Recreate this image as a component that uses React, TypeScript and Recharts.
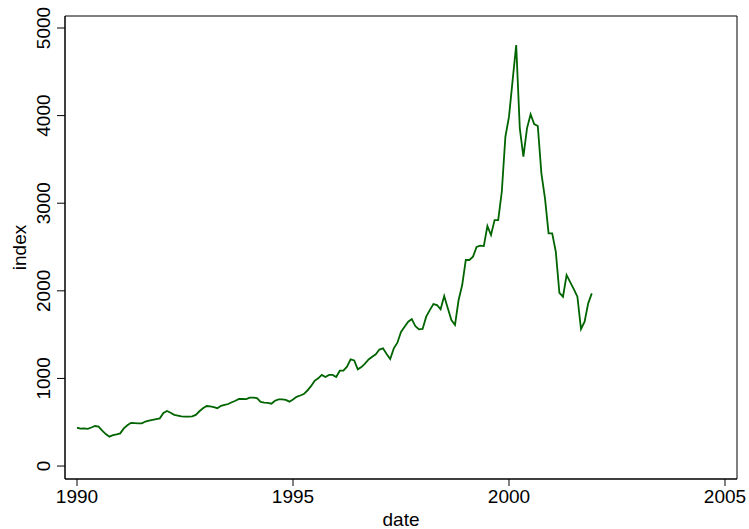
import React from 'react';
import { LineChart, Line, XAxis, YAxis, ReferenceArea } from 'recharts';

const years = [1990, 1991, 1992, 1993, 1994, 1995, 1996, 1997, 1998, 1999, 2000, 2001];

const index1990 = [437, 428, 430, 425, 440, 457, 450, 405, 365, 335, 352, 362];
const index1991 = [373, 430, 465, 493, 490, 487, 487, 508, 518, 527, 536, 544];
const index1992 = [605, 628, 608, 585, 576, 567, 564, 563, 568, 584, 625, 660];
const index1993 = [685, 680, 672, 660, 688, 698, 708, 728, 745, 765, 765, 763];
const index1994 = [780, 781, 775, 733, 725, 720, 711, 745, 761, 761, 755, 735];
const index1995 = [760, 790, 805, 822, 862, 912, 972, 1001, 1040, 1016, 1040, 1040];
const index1996 = [1016, 1088, 1088, 1134, 1218, 1206, 1104, 1130, 1168, 1216, 1247, 1275];
const index1997 = [1330, 1343, 1280, 1221, 1343, 1408, 1530, 1590, 1647, 1678, 1595, 1560];
const index1998 = [1564, 1705, 1780, 1849, 1838, 1789, 1941, 1800, 1667, 1610, 1895, 2066];
const index1999 = [2352, 2352, 2390, 2500, 2515, 2511, 2740, 2637, 2808, 2808, 3131, 3759];
const index2000 = [3988, 4400, 4806, 3855, 3531, 3855, 4015, 3904, 3881, 3341, 3056, 2656];
const index2001 = [2656, 2446, 1978, 1933, 2180, 2100, 2020, 1933, 1564, 1647, 1857, 1971];

const seriesByYear = [
  index1990, index1991, index1992, index1993, index1994, index1995,
  index1996, index1997, index1998, index1999, index2000, index2001,
];

const xTicks = [1990, 1995, 2000, 2005];
const yTicks = [0, 1000, 2000, 3000, 4000, 5000];

const data = years.flatMap((yr, i) =>
  seriesByYear[i].map((v, m) => ({ date: yr + m / 12, index: v }))
);

const FONT = '"Liberation Sans", Arial, Helvetica, sans-serif';
const FS = 19;
const X_DOMAIN: [number, number] = [1989.722, 2005.278];
const Y_DOMAIN: [number, number] = [-148, 5137];

const XTick = (props: any) => {
  const { x, y, payload } = props;
  return (
    <text x={x} y={y} dy={17} textAnchor="middle" fontFamily={FONT} fontSize={FS} fill="#000">
      {payload.value}
    </text>
  );
};

const YTick = (props: any) => {
  const { x, y, payload } = props;
  const bx = x - 7;
  return (
    <text
      x={bx}
      y={y}
      transform={`rotate(-90, ${bx}, ${y})`}
      textAnchor="middle"
      fontFamily={FONT}
      fontSize={FS}
      fill="#000"
    >
      {payload.value}
    </text>
  );
};

const YLabel = (props: any) => {
  const vb = props.viewBox || { x: 0, y: 16, width: 65, height: 463 };
  const cy = vb.y + vb.height / 2;
  const bx = 26;
  return (
    <text
      x={bx}
      y={cy}
      transform={`rotate(-90, ${bx}, ${cy})`}
      textAnchor="middle"
      fontFamily={FONT}
      fontSize={FS}
      fill="#000"
    >
      index
    </text>
  );
};

const XLabel = (props: any) => {
  const vb = props.viewBox || { x: 65, y: 479, width: 672, height: 50 };
  const cx = vb.x + vb.width / 2;
  return (
    <text x={cx} y={526} textAnchor="middle" fontFamily={FONT} fontSize={FS} fill="#000">
      date
    </text>
  );
};

export default function App() {
  return (
    <div style={{ position: 'absolute', left: 0, top: 0, width: 749, height: 529, background: '#fff' }}>
      <LineChart
        width={749}
        height={529}
        data={data}
        margin={{ top: 16, right: 12, bottom: 0, left: 0 }}
      >
        <XAxis
          dataKey="date"
          type="number"
          domain={X_DOMAIN}
          ticks={xTicks}
          allowDataOverflow
          height={50}
          tickSize={7}
          tickMargin={0}
          tick={<XTick />}
          axisLine={{ stroke: '#000', strokeWidth: 1 }}
          tickLine={{ stroke: '#000', strokeWidth: 1 }}
          label={<XLabel />}
        />
        <YAxis
          type="number"
          domain={Y_DOMAIN}
          ticks={yTicks}
          allowDataOverflow
          width={65}
          tickSize={8}
          tickMargin={0}
          tick={<YTick />}
          axisLine={{ stroke: '#000', strokeWidth: 1 }}
          tickLine={{ stroke: '#000', strokeWidth: 1 }}
          label={<YLabel />}
        />
        <ReferenceArea
          x1={X_DOMAIN[0]}
          x2={X_DOMAIN[1]}
          y1={Y_DOMAIN[0]}
          y2={Y_DOMAIN[1]}
          fill="none"
          fillOpacity={0}
          stroke="#000"
          strokeWidth={1}
          strokeOpacity={1}
          ifOverflow="visible"
        />
        <Line
          dataKey="index"
          type="linear"
          stroke="#006400"
          strokeWidth={1.8}
          dot={false}
          isAnimationActive={false}
        />
      </LineChart>
    </div>
  );
}
